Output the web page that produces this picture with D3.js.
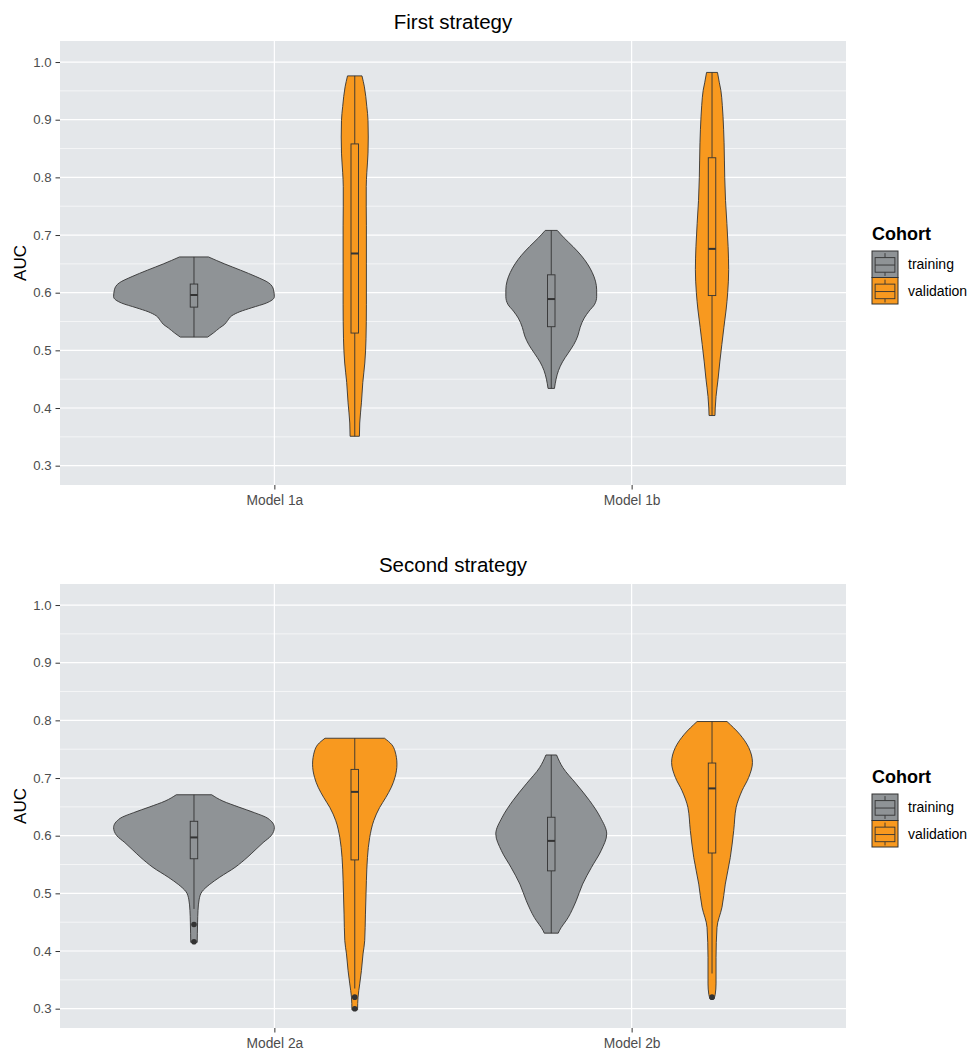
<!DOCTYPE html>
<html><head><meta charset="utf-8">
<script src="https://cdn.jsdelivr.net/npm/d3@7"></script>
<style>
body{margin:0;background:#fff}
text{font-family:"Liberation Sans",Arial,Helvetica,sans-serif}
</style>
</head><body>
<svg id="chart" width="971" height="1051"></svg>
<script>
// ---------------- DATA ----------------
const cohorts = ["training", "validation"];
const cohortColors = ["#8F9396", "#F8991F"];
const panelTitles = ["First strategy", "Second strategy"];
const modelsFirst = ["Model 1a", "Model 1b"];
const modelsSecond = ["Model 2a", "Model 2b"];
const yTickValues = [0.3, 0.4, 0.5, 0.6, 0.7, 0.8, 0.9, 1.0];
const yTickLabels = ["0.3", "0.4", "0.5", "0.6", "0.7", "0.8", "0.9", "1.0"];
const yMinorValues = [0.35, 0.45, 0.55, 0.65, 0.75, 0.85, 0.95];
const yLabel = "AUC";
const legendTitle = "Cohort";

// violin density profiles: [AUC, relative width (1 = widest violin)]
const dens1aTraining = [[0.662,0.18],[0.650,0.38],[0.639,0.58],[0.628,0.77],[0.617,0.93],[0.605,0.99],[0.593,1.0],[0.582,0.90],[0.574,0.72],[0.567,0.57],[0.560,0.47],[0.552,0.42],[0.545,0.38],[0.539,0.32],[0.530,0.24],[0.523,0.17]];
const dens1aValidation = [[0.976,0.09],[0.957,0.12],[0.923,0.15],[0.899,0.165],[0.870,0.168],[0.842,0.165],[0.808,0.15],[0.784,0.143],[0.750,0.143],[0.716,0.145],[0.650,0.145],[0.580,0.145],[0.520,0.14],[0.478,0.125],[0.444,0.10],[0.409,0.083],[0.374,0.062],[0.351,0.058]];
const dens1bTraining = [[0.708,0.075],[0.695,0.16],[0.680,0.27],[0.665,0.37],[0.650,0.45],[0.635,0.51],[0.620,0.55],[0.605,0.565],[0.593,0.565],[0.580,0.54],[0.568,0.47],[0.556,0.41],[0.540,0.36],[0.525,0.33],[0.510,0.28],[0.495,0.21],[0.480,0.14],[0.465,0.09],[0.450,0.06],[0.434,0.04]];
const dens1bValidation = [[0.982,0.068],[0.965,0.09],[0.951,0.11],[0.925,0.128],[0.905,0.137],[0.860,0.150],[0.800,0.158],[0.760,0.168],[0.720,0.185],[0.680,0.200],[0.640,0.207],[0.600,0.195],[0.570,0.175],[0.540,0.148],[0.510,0.122],[0.480,0.097],[0.450,0.075],[0.420,0.05],[0.400,0.04],[0.387,0.037]];
const dens2aTraining = [[0.671,0.22],[0.660,0.36],[0.650,0.55],[0.640,0.75],[0.630,0.92],[0.614,1.0],[0.600,0.96],[0.588,0.86],[0.575,0.76],[0.562,0.66],[0.545,0.51],[0.528,0.32],[0.515,0.19],[0.503,0.10],[0.490,0.065],[0.470,0.05],[0.450,0.045],[0.430,0.042],[0.415,0.04]];
const dens2aValidation = [[0.769,0.37],[0.758,0.46],[0.747,0.50],[0.724,0.525],[0.701,0.50],[0.684,0.455],[0.666,0.385],[0.649,0.31],[0.626,0.236],[0.597,0.186],[0.562,0.158],[0.522,0.145],[0.464,0.133],[0.418,0.124],[0.395,0.103],[0.366,0.083],[0.343,0.062],[0.320,0.041],[0.298,0.035]];
const dens2bTraining = [[0.740,0.066],[0.718,0.145],[0.690,0.31],[0.661,0.476],[0.632,0.61],[0.603,0.69],[0.574,0.62],[0.545,0.50],[0.516,0.39],[0.487,0.31],[0.458,0.21],[0.435,0.10],[0.431,0.087]];
const dens2bValidation = [[0.798,0.186],[0.776,0.344],[0.753,0.456],[0.727,0.503],[0.701,0.456],[0.678,0.373],[0.649,0.30],[0.609,0.27],[0.562,0.227],[0.516,0.165],[0.476,0.124],[0.441,0.062],[0.389,0.05],[0.343,0.05],[0.325,0.04],[0.317,0.025]];

// box stats: [lower whisker, Q1, median, Q3, upper whisker]
const box1aTraining = [0.523, 0.575, 0.596, 0.615, 0.662];
const box1aValidation = [0.351, 0.530, 0.668, 0.858, 0.976];
const box1bTraining = [0.434, 0.541, 0.589, 0.631, 0.708];
const box1bValidation = [0.387, 0.595, 0.676, 0.834, 0.982];
const box2aTraining = [0.473, 0.560, 0.597, 0.625, 0.671];
const box2aValidation = [0.335, 0.558, 0.676, 0.715, 0.769];
const box2bTraining = [0.431, 0.539, 0.591, 0.632, 0.740];
const box2bValidation = [0.361, 0.570, 0.682, 0.726, 0.798];

// outliers
const out2aTraining = [0.446, 0.416];
const out2aValidation = [0.320, 0.300];
const out2bValidation = [0.320];

// ---------------- LAYOUT ----------------
const panels = [
  { title: panelTitles[0], models: modelsFirst, top: 41,
    violins: [
      { cat: 0, g: 0, dens: dens1aTraining, box: box1aTraining, out: [] },
      { cat: 0, g: 1, dens: dens1aValidation, box: box1aValidation, out: [] },
      { cat: 1, g: 0, dens: dens1bTraining, box: box1bTraining, out: [] },
      { cat: 1, g: 1, dens: dens1bValidation, box: box1bValidation, out: [] }
    ] },
  { title: panelTitles[1], models: modelsSecond, top: 584,
    violins: [
      { cat: 0, g: 0, dens: dens2aTraining, box: box2aTraining, out: out2aTraining },
      { cat: 0, g: 1, dens: dens2aValidation, box: box2aValidation, out: out2aValidation },
      { cat: 1, g: 0, dens: dens2bTraining, box: box2bTraining, out: [] },
      { cat: 1, g: 1, dens: dens2bValidation, box: box2bValidation, out: out2bValidation }
    ] }
];

const svg = d3.select("#chart");
svg.append("rect").attr("width", 971).attr("height", 1051).attr("fill", "#fff");

const panelLeft = 60, panelRight = 846, panelHeight = 444;
const dodge = 0.225, boxW = 0.021;
const lineCol = "#333333";

panels.forEach(p => {
  const g = svg.append("g");
  const top = p.top, bottom = p.top + panelHeight;
  const x = d3.scaleLinear().domain([0.4, 2.6]).range([panelLeft, panelRight]);
  const y = d3.scaleLinear().domain([0.2665, 1.0365]).range([bottom, top]);
  const wScale = d3.scaleLinear().domain([0, 1]).range([0, x(1 + dodge) - x(1)]);

  g.append("rect").attr("x", panelLeft).attr("y", top)
    .attr("width", panelRight - panelLeft).attr("height", panelHeight).attr("fill", "#E4E7EA");
  g.selectAll(".ymin").data(yMinorValues).enter().append("line")
    .attr("x1", panelLeft).attr("x2", panelRight)
    .attr("y1", d => y(d)).attr("y2", d => y(d))
    .attr("stroke", "#fff").attr("stroke-width", 0.6);
  g.selectAll(".ymaj").data(yTickValues).enter().append("line")
    .attr("x1", panelLeft).attr("x2", panelRight)
    .attr("y1", d => y(d)).attr("y2", d => y(d))
    .attr("stroke", "#fff").attr("stroke-width", 1.2);
  g.selectAll(".xmaj").data(p.models).enter().append("line")
    .attr("x1", (d, i) => x(i + 1)).attr("x2", (d, i) => x(i + 1))
    .attr("y1", top).attr("y2", bottom)
    .attr("stroke", "#fff").attr("stroke-width", 1.2);

  p.violins.forEach(v => {
    const cx = x(v.cat + 1 + (v.g === 0 ? -dodge : dodge));
    const fill = cohortColors[v.g];
    const area = d3.area()
      .y(d => y(d[0]))
      .x0(d => cx - wScale(d[1]))
      .x1(d => cx + wScale(d[1]))
      .curve(d3.curveMonotoneY);
    g.append("path").datum(v.dens.slice().reverse())
      .attr("d", area).attr("fill", fill)
      .attr("stroke", lineCol).attr("stroke-width", 0.9).attr("stroke-linejoin", "round");

    const [lo, q1, med, q3, hi] = v.box;
    const bw = x(1 + boxW) - x(1);
    g.append("line").attr("x1", cx).attr("x2", cx).attr("y1", y(hi)).attr("y2", y(q3))
      .attr("stroke", lineCol).attr("stroke-width", 0.9);
    g.append("line").attr("x1", cx).attr("x2", cx).attr("y1", y(q1)).attr("y2", y(lo))
      .attr("stroke", lineCol).attr("stroke-width", 0.9);
    g.append("rect").attr("x", cx - bw / 2).attr("width", bw)
      .attr("y", y(q3)).attr("height", y(q1) - y(q3))
      .attr("fill", fill).attr("stroke", lineCol).attr("stroke-width", 0.9);
    g.append("line").attr("x1", cx - bw / 2).attr("x2", cx + bw / 2)
      .attr("y1", y(med)).attr("y2", y(med))
      .attr("stroke", lineCol).attr("stroke-width", 2);
    g.selectAll(null).data(v.out).enter().append("circle")
      .attr("cx", cx).attr("cy", d => y(d)).attr("r", 2.8).attr("fill", lineCol);
  });

  const yAxis = d3.axisLeft(y).tickValues(yTickValues)
    .tickFormat((d, i) => yTickLabels[i]).tickSize(4.5).tickPadding(4);
  const ya = g.append("g").attr("transform", `translate(${panelLeft},0)`).call(yAxis);
  ya.select(".domain").remove();
  ya.selectAll(".tick line").attr("stroke", lineCol).attr("stroke-width", 1);
  ya.selectAll(".tick text").attr("fill", "#4D4D4D").style("font-size", "13.2px")
    .style("font-family", '"Liberation Sans",Arial,sans-serif');

  const xAxis = d3.axisBottom(x).tickValues([1, 2])
    .tickFormat(d => p.models[d - 1]).tickSize(4.5).tickPadding(6);
  const xa = g.append("g").attr("transform", `translate(0,${bottom})`).call(xAxis);
  xa.select(".domain").remove();
  xa.selectAll(".tick line").attr("stroke", lineCol).attr("stroke-width", 1);
  xa.selectAll(".tick text").attr("fill", "#4D4D4D").style("font-size", "13.8px")
    .style("font-family", '"Liberation Sans",Arial,sans-serif');

  g.append("text").attr("x", (panelLeft + panelRight) / 2).attr("y", top - 12)
    .attr("text-anchor", "middle").style("font-size", "20.5px").attr("fill", "#000")
    .text(p.title);
  g.append("text").attr("transform", `translate(26,${(top + bottom) / 2}) rotate(-90)`)
    .attr("text-anchor", "middle").style("font-size", "17px").attr("fill", "#000")
    .text(yLabel);

  const lx = 872, ly = top + 199;
  g.append("text").attr("x", lx).attr("y", ly).style("font-size", "18px")
    .style("font-weight", "bold").attr("fill", "#000").text(legendTitle);
  const kh = 26.5, kw = 26;
  cohorts.forEach((c, i) => {
    const ky = top + 210 + i * kh;
    g.append("rect").attr("x", lx).attr("y", ky).attr("width", kw).attr("height", kh)
      .attr("fill", cohortColors[i]).attr("stroke", lineCol).attr("stroke-width", 1);
    const mx = lx + kw / 2;
    g.append("line").attr("x1", mx).attr("x2", mx).attr("y1", ky + kh * 0.08).attr("y2", ky + kh * 0.25)
      .attr("stroke", lineCol).attr("stroke-width", 0.9);
    g.append("line").attr("x1", mx).attr("x2", mx).attr("y1", ky + kh * 0.8).attr("y2", ky + kh * 0.94)
      .attr("stroke", lineCol).attr("stroke-width", 0.9);
    g.append("rect").attr("x", lx + kw * 0.12).attr("y", ky + kh * 0.25)
      .attr("width", kw * 0.76).attr("height", kh * 0.55)
      .attr("fill", cohortColors[i]).attr("stroke", lineCol).attr("stroke-width", 0.9);
    g.append("line").attr("x1", lx + kw * 0.12).attr("x2", lx + kw * 0.88)
      .attr("y1", ky + kh * 0.53).attr("y2", ky + kh * 0.53)
      .attr("stroke", lineCol).attr("stroke-width", 0.9);
    g.append("text").attr("x", lx + 36).attr("y", ky + kh / 2 + 5)
      .style("font-size", "14px").attr("fill", "#000").text(c);
  });
});
</script>
</body></html>
